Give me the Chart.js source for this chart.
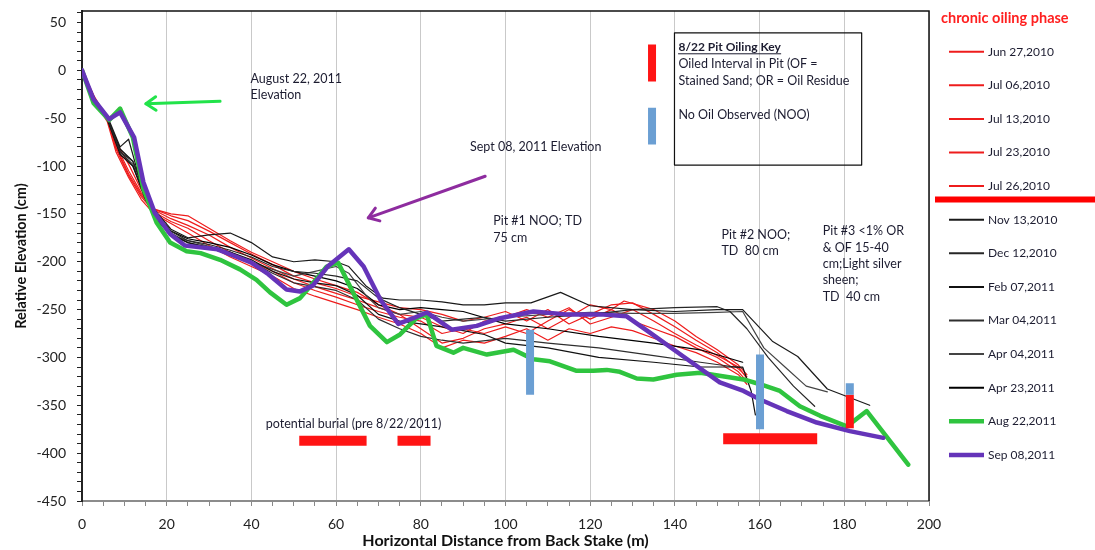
<!DOCTYPE html>
<html><head><meta charset="utf-8">
<script src="https://cdn.jsdelivr.net/npm/chart.js@4.4.1/dist/chart.umd.min.js"></script>
<style>html,body{margin:0;padding:0;background:#fff;}#wrap{width:1095px;height:550px;}</style>
</head><body><div id="wrap"><canvas id="c" width="1095" height="550"></canvas></div>
<script>
// ---------- axis ranges / ticks ----------
const xRange = {min: 0, max: 200, step: 5, labelEvery: 20};
const yRange = {min: -450, max: 62, step: 10, labelEvery: 50};
const xTitle = 'Horizontal Distance from Back Stake (m)';
const yTitle = 'Relative Elevation (cm)';

// ---------- series labels ----------
const seriesLabels = ['Jun 27,2010','Jul 06,2010','Jul 13,2010','Jul 23,2010','Jul 26,2010',
  'Nov 13,2010','Dec 12,2010','Feb 07,2011','Mar 04,2011','Apr 04,2011','Apr 23,2011',
  'Aug 22,2011','Sep 08,2011'];

// ---------- series values [distance m, elevation cm] ----------
const jun27_2010 = [[0,0],[3,-32],[6,-52],[8,-78],[11,-105],[14,-128],[17,-145],[21,-152],[25,-157],[30,-168],[35,-180],[40,-192],[45,-203],[50,-215],[55,-222],[60,-228],[65,-236],[70,-242],[75,-248],[80,-250],[85,-255],[90,-262],[95,-258],[100,-252],[105,-262],[110,-250],[115,-265],[120,-255],[125,-245],[130,-243],[135,-255],[140,-268],[145,-282],[150,-295],[155,-312],[157,-320]];
const jul06_2010 = [[0,0],[3,-30],[6,-50],[8,-82],[11,-110],[14,-132],[17,-148],[21,-158],[25,-165],[30,-178],[35,-190],[40,-200],[45,-210],[50,-222],[55,-230],[60,-237],[65,-245],[70,-252],[75,-258],[80,-262],[85,-275],[90,-270],[95,-275],[100,-268],[105,-275],[110,-262],[115,-250],[120,-260],[125,-250],[130,-262],[135,-270],[140,-278],[145,-290],[150,-300],[155,-315],[157,-325]];
const jul13_2010 = [[0,0],[3,-28],[6,-50],[8,-75],[11,-98],[14,-125],[17,-145],[21,-150],[25,-152],[30,-165],[35,-178],[40,-190],[45,-200],[50,-210],[55,-218],[60,-225],[65,-232],[70,-245],[75,-255],[80,-270],[85,-285],[90,-280],[95,-270],[100,-265],[105,-258],[110,-270],[115,-258],[120,-245],[125,-250],[128,-241],[135,-250],[140,-262],[145,-278],[150,-292],[155,-308],[157,-318]];
const jul23_2010 = [[0,0],[3,-32],[6,-54],[8,-85],[11,-112],[14,-135],[17,-150],[21,-160],[25,-170],[30,-183],[35,-195],[40,-205],[45,-215],[50,-228],[55,-236],[60,-243],[65,-250],[70,-258],[75,-265],[80,-275],[85,-290],[90,-282],[95,-285],[100,-278],[105,-270],[110,-282],[115,-270],[120,-275],[125,-268],[130,-272],[135,-280],[140,-288],[145,-295],[150,-305],[155,-318],[157,-328]];
const jul26_2010 = [[0,0],[3,-30],[6,-52],[8,-80],[11,-108],[14,-130],[17,-146],[21,-155],[25,-162],[30,-172],[35,-185],[40,-196],[45,-207],[50,-218],[55,-226],[60,-233],[65,-240],[70,-248],[75,-255],[80,-258],[85,-268],[90,-275],[95,-262],[100,-258],[105,-250],[110,-258],[115,-248],[120,-265],[125,-258],[130,-250],[135,-262],[140,-275],[145,-287],[150,-298],[155,-310],[157,-322]];
const nov13_2010 = [[0,0],[3,-30],[6,-48],[9,-80],[11,-72],[14,-120],[17,-145],[21,-166],[25,-175],[30,-172],[35,-170],[40,-180],[45,-195],[50,-200],[55,-198],[60,-200],[63,-205],[67,-225],[71,-238],[75,-240],[80,-240],[85,-242],[90,-245],[95,-245],[100,-243],[106,-243],[113,-232],[120,-246],[130,-250],[140,-252],[150,-250],[156,-250],[163,-283],[169,-299],[176,-333],[186,-350]];
const dec12_2010 = [[0,0],[3,-32],[6,-50],[9,-85],[12,-95],[15,-130],[18,-155],[21,-168],[25,-178],[30,-182],[35,-188],[40,-195],[45,-205],[50,-210],[55,-212],[60,-215],[65,-220],[70,-238],[75,-248],[80,-255],[85,-262],[90,-260],[95,-258],[100,-262],[110,-258],[120,-255],[130,-250],[140,-248],[150,-247],[153,-252],[157,-270],[162,-300],[168,-330],[173,-351]];
const feb07_2011 = [[0,0],[3,-30],[6,-52],[9,-88],[12,-100],[15,-135],[18,-158],[21,-172],[25,-180],[30,-185],[35,-190],[40,-198],[45,-210],[50,-218],[55,-222],[60,-225],[65,-235],[70,-255],[75,-262],[80,-265],[85,-268],[90,-272],[95,-276],[100,-285],[110,-290],[122,-300],[135,-305],[146,-310],[156,-310],[158,-335],[159,-360]];
const mar04_2011 = [[0,0],[3,-30],[6,-50],[9,-84],[12,-100],[15,-132],[18,-155],[21,-170],[25,-180],[30,-186],[35,-192],[40,-200],[45,-212],[50,-222],[55,-226],[60,-230],[65,-240],[70,-260],[75,-270],[80,-278],[85,-282],[90,-285],[100,-280],[110,-285],[122,-290],[135,-298],[146,-305],[156,-311]];
const apr04_2011 = [[0,0],[3,-32],[6,-50],[9,-86],[12,-98],[15,-135],[18,-158],[21,-172],[25,-178],[30,-184],[35,-190],[40,-200],[45,-208],[50,-215],[55,-210],[60,-205],[63,-212],[67,-235],[70,-248],[75,-255],[80,-252],[85,-258],[90,-262],[100,-258],[110,-255],[120,-253],[130,-254],[140,-254],[150,-253],[156,-252],[161,-290],[166,-310],[171,-330],[176,-336]];
const apr23_2011 = [[0,0],[3,-30],[6,-50],[9,-82],[12,-95],[15,-128],[18,-152],[21,-168],[25,-176],[30,-180],[35,-185],[40,-193],[45,-203],[50,-210],[55,-215],[60,-220],[65,-228],[70,-245],[75,-250],[80,-248],[85,-250],[90,-252],[100,-265],[110,-270],[122,-278],[135,-285],[146,-292],[156,-305]];
const aug22_2011 = [[0,0],[2.7,-34],[6.4,-52],[9,-40],[12,-70],[14.5,-124],[17.6,-159],[20.8,-180],[24.7,-189],[28,-191],[32.6,-198],[37.3,-208],[41.2,-219],[44.4,-232],[48.3,-245],[51.5,-238],[54.6,-222],[57.8,-205],[60.5,-201],[64.9,-240],[68,-267],[72,-284],[75.1,-276],[79,-259],[81.4,-255],[83.7,-288],[87.7,-295],[90,-290],[95.6,-297],[101.9,-292],[106.6,-302],[110.5,-304],[116.8,-314],[120.7,-314],[123.9,-313],[127,-315],[131,-322],[134.9,-323],[140.4,-318],[146,-316],[149,-318],[156.2,-323],[160.1,-328],[164.8,-335],[169.5,-351],[174.3,-361],[180.6,-372],[185.3,-356],[195.1,-412]];
const sep08_2011 = [[0,0],[2.7,-30],[6.4,-51],[9,-44],[12.3,-70],[14.5,-117],[17.2,-149],[20.8,-171],[24.3,-183],[28,-185],[32,-187],[36,-194],[40,-201],[44,-213],[48.3,-229],[51.5,-231],[54.5,-225],[58,-205],[63,-187],[66.5,-205],[70.5,-240],[74.7,-265],[78.2,-259],[81.4,-253],[87.3,-271],[93.2,-267],[98.7,-259],[106.6,-252],[114.4,-255],[122.3,-255],[128.6,-257],[134.1,-274],[142,-299],[150.6,-326],[156.2,-335],[160.1,-344],[166.4,-356],[173.5,-368],[181.3,-377],[189.2,-384]];

// ---------- pit / burial markers [distance m, elevation cm] ----------
const pit1Noo = [[105.8,-271],[105.8,-339]];
const pit2Noo = [[160.1,-297],[160.1,-375]];
const pit3Noo = [[181.3,-327],[181.3,-339]];
const pit3Oiled = [[181.3,-339],[181.3,-374]];
const burialA = [[51.3,-387],[67.2,-387]];
const burialB = [[74.5,-387],[82.3,-387]];
const burialC = [[151.4,-385],[173.6,-385]];
const keyOiled = [[134.6,27],[134.6,-11.7]];
const keyNoo = [[134.6,-39],[134.6,-77.5]];

// ---------- annotation texts (anchored in data units) ----------
const notes = [
  {x: 39.8, y: -8.9, lines: ['August 22, 2011', 'Elevation']},
  {x: 91.6, y: -80.5, lines: ['Sept 08, 2011 Elevation']},
  {x: 97.1, y: -157.7, lines: ['Pit #1 NOO; TD', '75 cm']},
  {x: 151.0, y: -171.6, lines: ['Pit #2 NOO;', 'TD  80 cm']},
  {x: 174.9, y: -168.1, lines: ['Pit #3 <1% OR', '& OF 15-40', 'cm;Light silver', 'sheen;', 'TD  40 cm']},
  {x: 43.4, y: -369.1, lines: ['potential burial (pre 8/22/2011)']}
];
const keyBox = {x1: 139.9, y1: 39.2, x2: 184.1, y2: -99, title: '8/22 Pit Oiling Key',
  lines: [{y: 7.1, t: 'Oiled Interval in Pit (OF ='}, {y: -11.4, t: 'Stained Sand; OR = Oil Residue'}, {y: -46.2, t: 'No Oil Observed (NOO)'}], titleY: 24.6};
const arrows = [
  {from: [32.6, -32.3], to: [15.1, -35], color: '#22e34a'},
  {from: [95.2, -110.7], to: [67.6, -154.1], color: '#8e2c9f'}
];
const legendHeader = 'chronic oiling phase';

// ---------- styles ----------
const RED = 'rgb(238,28,28)';
const seriesColors = [RED, RED, RED, RED, RED, '#1a1a1a', '#262626', '#111111', '#2e2e2e', '#444444', '#000000', '#2fc43f', '#6534b9'];
const seriesWidths = [1.2,1.2,1.2,1.2,1.2,1.2,1.2,1.2,1.2,1.2,1.2,4.5,4.5];
const seriesOrder = [5,5,5,5,5,4,4,4,4,4,4,3,2];
const seriesData = [jun27_2010, jul06_2010, jul13_2010, jul23_2010, jul26_2010, nov13_2010, dec12_2010, feb07_2011, mar04_2011, apr04_2011, apr23_2011, aug22_2011, sep08_2011];

const datasets = seriesData.map((d, i) => ({
  label: seriesLabels[i], data: d, borderColor: seriesColors[i], backgroundColor: seriesColors[i],
  borderWidth: seriesWidths[i], pointRadius: 0, tension: 0, order: seriesOrder[i], inLegend: true,
  borderJoinStyle: 'round', borderCapStyle: 'round'
}));
const BLUE = '#6b9fd3', BAR_RED = '#ff1414';
const markers = [
  [pit1Noo, BLUE, 8], [pit2Noo, BLUE, 8], [pit3Noo, BLUE, 8], [pit3Oiled, BAR_RED, 8],
  [burialA, BAR_RED, 10], [burialB, BAR_RED, 10], [burialC, BAR_RED, 11],
  [keyOiled, BAR_RED, 8], [keyNoo, BLUE, 8]
];
markers.forEach(([d, c, w]) => datasets.push({label: '', data: d, borderColor: c, backgroundColor: c,
  borderWidth: w, pointRadius: 0, borderCapStyle: 'butt', order: 0, inLegend: false}));

const FONT = 'Lato, "Open Sans", sans-serif';
const TEXT = '#1c1c30';

const decorPlugin = {
  id: 'decor',
  afterDatasetsDraw(chart) {
    const {ctx, chartArea: a, scales: {x, y}} = chart;
    ctx.save();
    // frame top / right
    ctx.strokeStyle = '#111'; ctx.lineWidth = 1.5;
    ctx.beginPath(); ctx.moveTo(a.left, a.top); ctx.lineTo(a.right, a.top); ctx.lineTo(a.right, a.bottom); ctx.stroke();
    // arrows
    arrows.forEach(ar => {
      const x1 = x.getPixelForValue(ar.from[0]), y1 = y.getPixelForValue(ar.from[1]);
      const x2 = x.getPixelForValue(ar.to[0]), y2 = y.getPixelForValue(ar.to[1]);
      const ang = Math.atan2(y2 - y1, x2 - x1);
      ctx.strokeStyle = ar.color; ctx.lineWidth = 3; ctx.lineCap = 'round'; ctx.lineJoin = 'round';
      ctx.beginPath(); ctx.moveTo(x1, y1); ctx.lineTo(x2, y2); ctx.stroke();
      const L = 12, s = 0.6;
      ctx.beginPath();
      ctx.moveTo(x2 - L * Math.cos(ang - s), y2 - L * Math.sin(ang - s));
      ctx.lineTo(x2, y2);
      ctx.lineTo(x2 - L * Math.cos(ang + s), y2 - L * Math.sin(ang + s));
      ctx.stroke();
    });
    // notes
    ctx.fillStyle = TEXT; ctx.font = '12.5px ' + FONT; ctx.textBaseline = 'middle'; ctx.textAlign = 'left';
    notes.forEach(n => {
      const px = x.getPixelForValue(n.x), py = y.getPixelForValue(n.y);
      n.lines.forEach((t, i) => ctx.fillText(t, px, py + i * 16.4));
    });
    // key box
    const bx1 = x.getPixelForValue(keyBox.x1), by1 = y.getPixelForValue(keyBox.y1);
    const bx2 = x.getPixelForValue(keyBox.x2), by2 = y.getPixelForValue(keyBox.y2);
    ctx.strokeStyle = '#111'; ctx.lineWidth = 1.2;
    ctx.strokeRect(bx1, by1, bx2 - bx1, by2 - by1);
    const tx = bx1 + 4;
    ctx.font = 'bold 12px ' + FONT;
    const ty = y.getPixelForValue(keyBox.titleY);
    ctx.fillText(keyBox.title, tx, ty);
    const tw = ctx.measureText(keyBox.title).width;
    ctx.lineWidth = 1; ctx.strokeStyle = TEXT;
    ctx.beginPath(); ctx.moveTo(tx, ty + 7); ctx.lineTo(tx + tw, ty + 7); ctx.stroke();
    ctx.font = '12.5px ' + FONT;
    keyBox.lines.forEach(l => ctx.fillText(l.t, tx, y.getPixelForValue(l.y)));
    ctx.restore();
  },
  afterDraw(chart) {
    const {ctx} = chart;
    ctx.save();
    ctx.fillStyle = '#ff2020'; ctx.font = 'bold 14.5px ' + FONT; ctx.textBaseline = 'middle'; ctx.textAlign = 'left';
    ctx.fillText(legendHeader, 941, 18);
    const items = chart.data.datasets.filter(d => d.inLegend);
    ctx.font = '12px ' + FONT;
    items.forEach((d, i) => {
      const yy = 51.7 + i * 33.6;
      ctx.strokeStyle = d.borderColor; ctx.lineWidth = Math.max(2, d.borderWidth); ctx.lineCap = 'butt';
      ctx.beginPath(); ctx.moveTo(949, yy); ctx.lineTo(984, yy); ctx.stroke();
      ctx.fillStyle = '#1c1c30';
      ctx.fillText(d.label, 988, yy);
      if (i === 4) {
        ctx.strokeStyle = '#ff0000'; ctx.lineWidth = 6;
        ctx.beginPath(); ctx.moveTo(935, yy + 13.5); ctx.lineTo(1095, yy + 13.5); ctx.stroke();
      }
    });
    ctx.restore();
  }
};

new Chart(document.getElementById('c'), {
  type: 'line',
  data: {datasets},
  options: {
    responsive: false, animation: false, devicePixelRatio: 1,
    layout: {padding: {left: 9, top: 11, right: 166, bottom: 0}},
    plugins: {legend: {display: false}, tooltip: {enabled: false}},
    scales: {
      x: {
        type: 'linear', min: xRange.min, max: xRange.max,
        ticks: {stepSize: xRange.step, autoSkip: false, maxRotation: 0, includeBounds: false, color: '#222',
          font: {family: FONT, size: 14}, padding: 10,
          callback: v => (v % xRange.labelEvery === 0 ? String(v) : '')},
        grid: {color: c => (c.tick && c.tick.value % xRange.labelEvery === 0) ? '#c9c9c9' : 'rgba(0,0,0,0)',
          tickColor: '#888', tickLength: 5, lineWidth: 1},
        border: {color: '#8c8c8c', width: 2},
        title: {display: true, text: xTitle, color: '#111', font: {family: FONT, size: 16, weight: 'bold'}, padding: {top: 0, bottom: 0}},
        afterFit: s => { s.height = 49; }
      },
      y: {
        type: 'linear', min: yRange.min, max: yRange.max,
        ticks: {stepSize: yRange.step, autoSkip: false, includeBounds: false, color: '#222',
          font: {family: FONT, size: 14}, padding: 11,
          callback: v => (v % yRange.labelEvery === 0 ? String(v) : '')},
        grid: {drawOnChartArea: false, tickColor: '#222', tickLength: 5},
        border: {color: '#222', width: 2},
        title: {display: true, text: yTitle, color: '#111', font: {family: FONT, size: 14.5, weight: 'bold'}, padding: {top: 4, bottom: 4}},
        afterFit: s => { s.width = 73; s.paddingTop = 0; s.paddingBottom = 0; }
      }
    }
  },
  plugins: [decorPlugin]
});
</script></body></html>
